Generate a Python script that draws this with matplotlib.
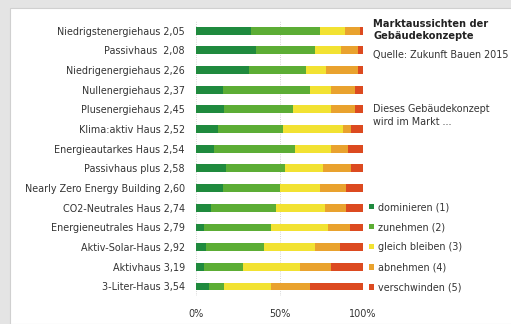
import numpy as np
import matplotlib
matplotlib.use("Agg")
import matplotlib.pyplot as plt
from matplotlib.patches import Rectangle

# Gebaeudekonzepte mit Durchschnittsnote
konzepte = ["Niedrigstenergiehaus 2,05", "Passivhaus  2,08", "Niedrigenergiehaus 2,26",
            "Nullenergiehaus 2,37", "Plusenergiehaus 2,45", "Klima:aktiv Haus 2,52",
            "Energieautarkes Haus 2,54", "Passivhaus plus 2,58", "Nearly Zero Energy Building 2,60",
            "CO2-Neutrales Haus 2,74", "Energieneutrales Haus 2,79", "Aktiv-Solar-Haus 2,92",
            "Aktivhaus 3,19", "3-Liter-Haus 3,54"]

# Anteile in % (Reihenfolge wie oben)
dominieren   = [33, 36, 32, 16, 17, 13, 11, 18, 16,  9,  5,  6,  5,  8]
zunehmen     = [41, 35, 34, 52, 41, 39, 48, 35, 34, 39, 40, 35, 23,  9]
gleich       = [15, 16, 12, 13, 23, 36, 22, 23, 24, 29, 34, 30, 34, 28]
abnehmen     = [ 9, 10, 19, 14, 14,  5, 10, 17, 16, 13, 13, 15, 19, 23]
verschwinden = [ 2,  3,  3,  5,  5,  7,  9,  7, 10, 10,  8, 14, 19, 32]

serien = ["dominieren (1)", "zunehmen (2)", "gleich bleiben (3)", "abnehmen (4)", "verschwinden (5)"]
farben = ["#1f8a3e", "#5cad35", "#f2e232", "#e9a22e", "#dc4a20"]

def main():
    fs = 6.9
    fig = plt.figure(figsize=(5.11, 3.24), dpi=100)
    # grauer Rahmen wie im Original
    fig.patches.append(Rectangle((0, 0), 1, 1, transform=fig.transFigure,
                                 facecolor="#e4e4e4", edgecolor="none", zorder=-3))
    fig.patches.append(Rectangle((10/511, 0), 1, 1 - 8/324, transform=fig.transFigure,
                                 facecolor="white", edgecolor="#d0d0d0", lw=0.8, zorder=-2))

    ax = fig.add_axes([196/511, 0.0855, 167/511, 0.85])
    ax.set_facecolor("none")
    y = np.arange(len(konzepte))
    links = np.zeros(len(konzepte))
    for werte, name, farbe in zip([dominieren, zunehmen, gleich, abnehmen, verschwinden], serien, farben):
        ax.barh(y, werte, left=links, height=0.4, color=farbe, label=name, zorder=2)
        links += np.array(werte)

    ax.set_xlim(0, 100)
    ax.set_ylim(len(konzepte) - 0.5, -0.5)
    ax.set_yticks(y)
    ax.set_yticklabels(konzepte, fontsize=fs, color="#333333")
    ax.set_xticks([0, 50, 100])
    ax.set_xticklabels(["0%", "50%", "100%"], fontsize=fs, color="#333333")
    ax.tick_params(axis="y", length=0, pad=8)
    ax.tick_params(axis="x", length=0, pad=9)
    ax.grid(axis="x", color="#c8c8c8", lw=0.6, ls=":", zorder=0)
    for s in ax.spines.values():
        s.set_visible(False)

    fig.text(373/511, 1 - 19/324, "Marktaussichten der\nGebäudekonzepte", fontsize=7.1,
             fontweight="bold", color="#222222", va="top", linespacing=1.2)
    fig.text(373/511, 1 - 50/324, "Quelle: Zukunft Bauen 2015", fontsize=fs,
             color="#333333", va="top")
    fig.text(373/511, 1 - 104/324, "Dieses Gebäudekonzept\nwird im Markt ...", fontsize=fs,
             color="#333333", va="top", linespacing=1.35)

    fig.legend(loc="upper left", bbox_to_anchor=(369/511, 1 - 202/324), frameon=False,
               fontsize=fs, labelcolor="#333333", handlelength=0.5, handleheight=0.5,
               handletextpad=0.4, labelspacing=1.05, borderpad=0, borderaxespad=0)

    fig.savefig("out.png", dpi=100)

if __name__ == "__main__":
    main()
